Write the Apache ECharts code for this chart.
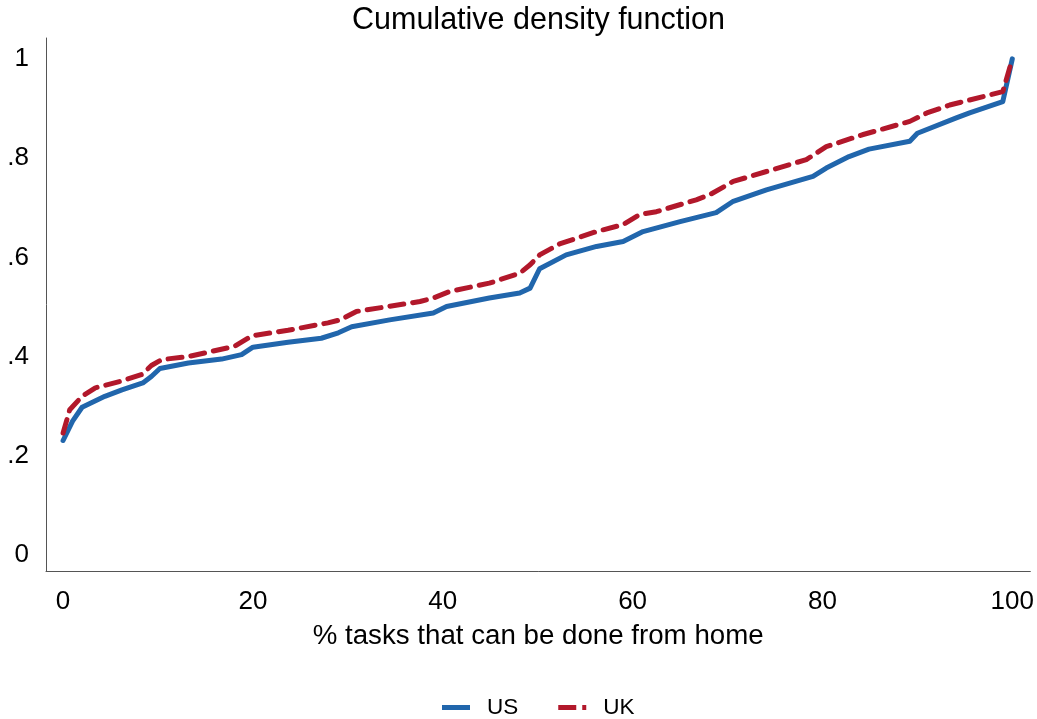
<!DOCTYPE html>
<html>
<head>
<meta charset="utf-8">
<script src="https://cdn.jsdelivr.net/npm/echarts@6/dist/echarts.min.js"></script>
<style>
html,body{margin:0;padding:0;background:#fff;}
#chart{width:1037px;height:719px;}
</style>
</head>
<body>
<div id="chart"></div>
<script>
// Share of tasks that can be done from home (x) and cumulative share (y)
var usX = [0, 1, 2, 4.4, 6.2, 8.4, 9.3, 10.2, 13.2, 16.7, 18.8, 20, 23.7, 27.2, 29, 30.4, 34.4, 39, 40.4, 44.9, 48.1, 49.2, 50.2, 53, 56.2, 59, 61.1, 65, 68.8, 70.6, 74.1, 79, 80.4, 82.8, 84.9, 89.2, 90, 94.1, 95.5, 99, 100];
var usY = [0.231, 0.270, 0.298, 0.320, 0.333, 0.347, 0.360, 0.376, 0.387, 0.395, 0.404, 0.419, 0.429, 0.437, 0.448, 0.460, 0.474, 0.488, 0.501, 0.518, 0.528, 0.538, 0.577, 0.605, 0.622, 0.632, 0.652, 0.672, 0.690, 0.713, 0.736, 0.763, 0.780, 0.803, 0.818, 0.834, 0.850, 0.881, 0.891, 0.914, 1.0];
var ukX = [0, 0.7, 2, 3.4, 6.2, 8.3, 9.3, 10.4, 13.2, 18.1, 19.9, 23.7, 27.9, 29.2, 30.9, 37.6, 39, 40.7, 44.9, 48.1, 49.2, 50.2, 52.3, 56.2, 59, 60.7, 62.5, 66.7, 68.1, 70.6, 74.1, 78.3, 80.4, 84.2, 89.2, 91, 93.4, 95.5, 99, 100];
var ukY = [0.246, 0.293, 0.320, 0.337, 0.351, 0.364, 0.382, 0.394, 0.400, 0.421, 0.442, 0.453, 0.468, 0.474, 0.491, 0.511, 0.518, 0.531, 0.548, 0.568, 0.585, 0.605, 0.627, 0.652, 0.666, 0.686, 0.692, 0.716, 0.726, 0.753, 0.773, 0.797, 0.823, 0.847, 0.874, 0.891, 0.907, 0.917, 0.934, 1.0];
var xTicks = [0, 20, 40, 60, 80, 100];
var yTicks = [0, 0.2, 0.4, 0.6, 0.8, 1];
var seriesNames = ['US', 'UK'];
var titleText = 'Cumulative density function';
var xAxisName = '% tasks that can be done from home';

function pairs(xs, ys) { return xs.map(function (x, i) { return [x, ys[i]]; }); }
var FONT = '"Liberation Sans", Arial, Helvetica, sans-serif';

var chart = echarts.init(document.getElementById('chart'), null, {renderer: 'canvas'});
chart.setOption({
  animation: false,
  backgroundColor: '#ffffff',
  title: {
    text: titleText, left: 347, top: 0,
    textStyle: {fontFamily: FONT, fontSize: 30.5, fontWeight: 'normal', color: '#000'}
  },
  grid: {left: 46, right: 6, top: 38, bottom: 148, containLabel: false},
  legend: {
    top: 691, left: 437,
    itemWidth: 28, itemHeight: 5, itemGap: 40,
    textStyle: {fontFamily: FONT, fontSize: 22.5, color: '#000', padding: [0, 0, 0, 12]},
    data: [
      {name: seriesNames[0], icon: 'path://M0,0H28V5H0Z'},
      {name: seriesNames[1], icon: 'path://M0,0H18V5H0Z M24,0H28V5H24Z'}
    ]
  },
  xAxis: {
    type: 'value', min: -1.8, max: 101.9,
    name: xAxisName, nameLocation: 'middle', nameGap: 51,
    nameTextStyle: {fontFamily: FONT, fontSize: 27.7, color: '#000'},
    axisLine: {show: true, onZero: false, lineStyle: {color: '#555', width: 1}},
    axisTick: {show: false},
    splitLine: {show: false},
    axisLabel: {customValues: xTicks, fontFamily: FONT, fontSize: 26, color: '#000', margin: 18}
  },
  yAxis: {
    type: 'value', min: -0.032, max: 1.042,
    axisLine: {show: true, onZero: false, lineStyle: {color: '#555', width: 1}},
    axisTick: {show: false},
    splitLine: {show: false},
    axisLabel: {
      customValues: yTicks, fontFamily: FONT, fontSize: 26, color: '#000', margin: 17,
      formatter: function (v) {
        if (v === 0) return '0';
        if (v === 1) return '1';
        return String(Math.round(v * 10) / 10).replace(/^0/, '');
      }
    }
  },
  series: [
    {
      name: seriesNames[0], type: 'line', data: pairs(usX, usY),
      showSymbol: false, symbol: 'none', smooth: false, z: 2,
      lineStyle: {color: '#2166ac', width: 5, cap: 'round', join: 'round'},
      itemStyle: {color: '#2166ac'}
    },
    {
      name: seriesNames[1], type: 'line', data: pairs(ukX, ukY),
      showSymbol: false, symbol: 'none', smooth: false, z: 3,
      lineStyle: {color: '#b2182b', width: 5, type: [14, 9], cap: 'round', join: 'round'},
      itemStyle: {color: '#b2182b'}
    }
  ]
});
</script>
</body>
</html>
